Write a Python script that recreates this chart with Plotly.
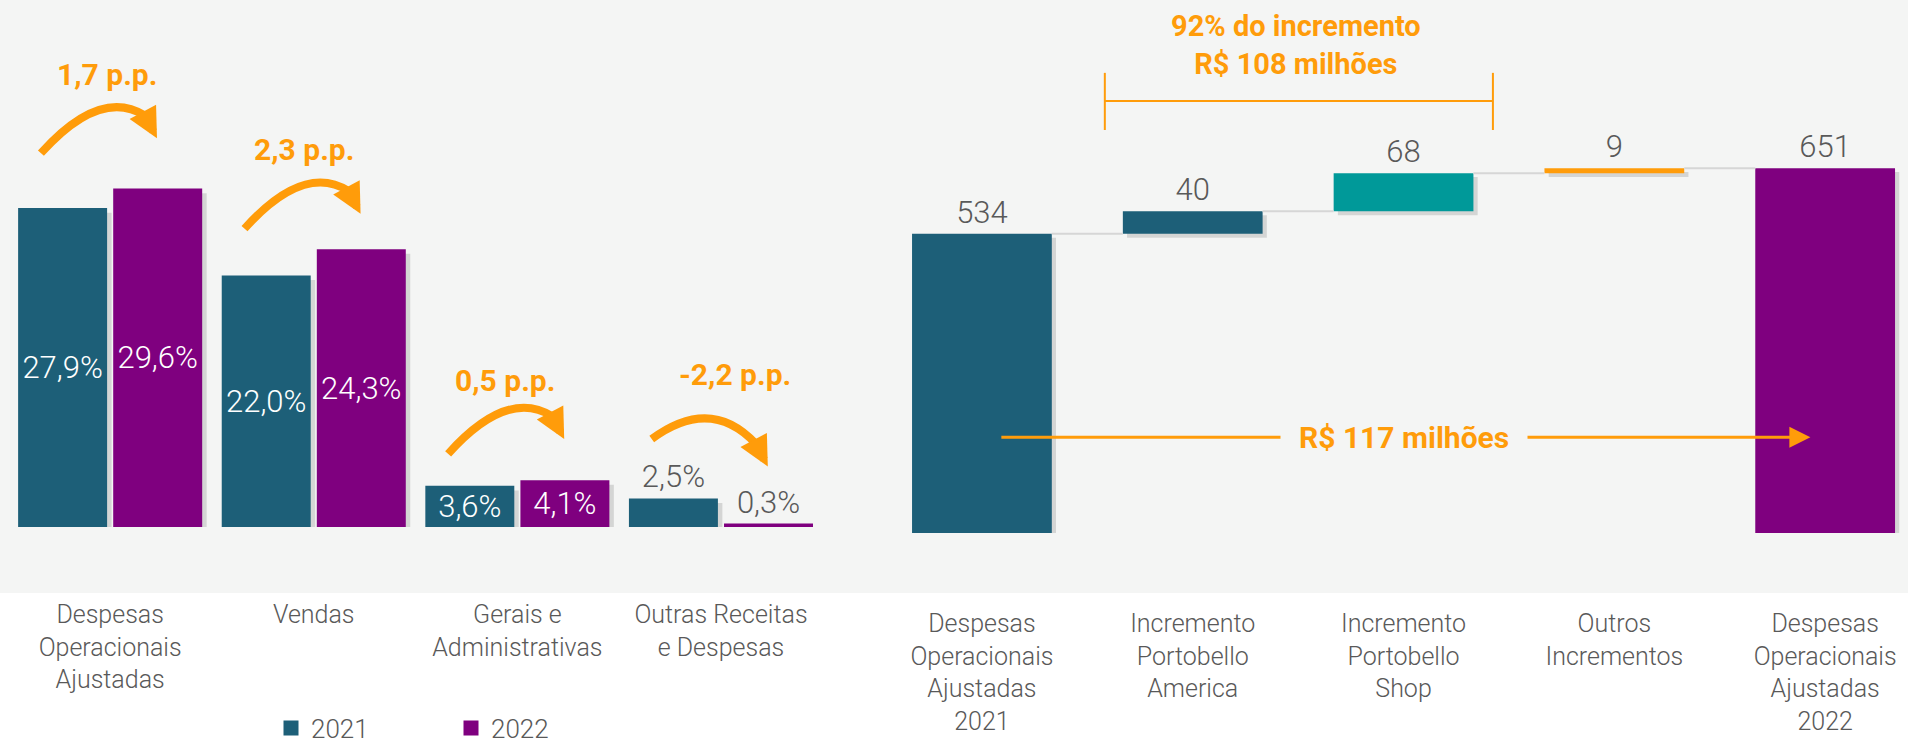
import plotly.graph_objects as go

# left panel: adjusted operating expenses as % of net revenue
categories_left = [
    "Despesas<br>Operacionais<br>Ajustadas",
    "Vendas",
    "Gerais e<br>Administrativas",
    "Outras Receitas<br>e Despesas",
]
ratio_2021 = [27.9, 22.0, 3.6, 2.5]
ratio_2022 = [29.6, 24.3, 4.1, 0.3]
delta_labels = ["1,7 p.p.", "2,3 p.p.", "0,5 p.p.", "-2,2 p.p."]

# right panel: bridge 2021 -> 2022, R$ milhões
categories_right = [
    "Despesas<br>Operacionais<br>Ajustadas<br>2021",
    "Incremento<br>Portobello<br>America",
    "Incremento<br>Portobello<br>Shop",
    "Outros<br>Incrementos",
    "Despesas<br>Operacionais<br>Ajustadas<br>2022",
]
bridge_values = [534, 40, 68, 9, 651]
bridge_measure = ["total", "relative", "relative", "relative", "total"]

TEAL_DARK = "#1D5F78"
PURPLE = "#7F007F"
TEAL = "#009999"
ORANGE = "#FF9C0A"
BG = "#F4F5F4"
GRAY_TXT = "#595959"
SHADOW = "rgba(0,0,0,0.13)"
bridge_colors = [TEAL_DARK, TEAL_DARK, TEAL, ORANGE, PURPLE]

FONT = "Roboto"


def pct(v):
    return f"{v:.1f}".replace(".", ",") + "%"


fig = go.Figure()

# ---- left grouped bars
x_left = list(range(len(categories_left)))
BW = 0.437
GAP = 0.03
offsets = {"2021": -(BW + GAP / 2), "2022": GAP / 2}

for name, vals, color in [("2021", ratio_2021, TEAL_DARK), ("2022", ratio_2022, PURPLE)]:
    # soft drop shadow
    fig.add_trace(go.Bar(
        x=x_left, y=vals, base=[-0.4] * len(vals), offset=offsets[name] + 0.022, width=BW,
        marker=dict(color=SHADOW, line_width=0), showlegend=False, hoverinfo="skip",
    ))
    fig.add_trace(go.Bar(
        x=x_left, y=vals, offset=offsets[name], width=BW, name=name, showlegend=False,
        marker=dict(color=color, line_width=0),
        text=[pct(v) for v in vals],
        textposition=["inside" if v >= 3 else "outside" for v in vals],
        insidetextanchor="middle", constraintext="none",
        insidetextfont=dict(family=FONT, size=31, color="white", weight=300),
        outsidetextfont=dict(family=FONT, size=31, color=GRAY_TXT, weight=300),
        cliponaxis=False,
    ))
    # legend entry with a bigger square swatch
    fig.add_trace(go.Scatter(
        x=[None], y=[None], mode="markers", name=name,
        marker=dict(symbol="square", size=15, color=color),
    ))

# ---- right bridge bars
bases, heights, running = [], [], 0
for v, m in zip(bridge_values, bridge_measure):
    if m == "total":
        bases.append(0)
        running = v
    else:
        bases.append(running)
        running += v
    heights.append(v)

x_right = list(range(len(categories_right)))
WW = 0.663

# connectors
cx, cy = [], []
for i in range(len(x_right) - 1):
    level = bases[i] + heights[i]
    cx += [i + WW / 2, i + 1 - WW / 2, None]
    cy += [level, level, None]
fig.add_trace(go.Scatter(
    x=cx, y=cy, mode="lines", line=dict(color="#D6D6D6", width=2),
    xaxis="x2", yaxis="y2", showlegend=False, hoverinfo="skip",
))

fig.add_trace(go.Bar(
    x=[i + 0.02 for i in x_right], y=heights, base=[b - 7 for b in bases], width=WW,
    marker=dict(color=SHADOW, line_width=0), xaxis="x2", yaxis="y2",
    showlegend=False, hoverinfo="skip",
))
fig.add_trace(go.Bar(
    x=x_right, y=heights, base=bases, width=WW,
    marker=dict(color=bridge_colors, line_width=0),
    text=[str(v) for v in bridge_values], textposition="outside", constraintext="none",
    outsidetextfont=dict(family=FONT, size=31, color=GRAY_TXT, weight=300),
    cliponaxis=False, xaxis="x2", yaxis="y2", showlegend=False,
))

# ---- curved arrows over the left groups
lift_start = [4.8, 4.1, 2.8, 5.2]
lift_tip = [4.4, 3.1, 3.6, 5.0]
arch = [2.4, 2.4, 2.4, 1.8]
label_dx = [-0.015, -0.05, -0.06, 0.07]
label_dy = [3.2, 3.2, 2.7, 3.8]
shapes = [dict(type="rect", xref="paper", yref="paper", x0=0, x1=1,
               y0=1 - 593 / 745, y1=1, fillcolor=BG, line_width=0, layer="below")]
annotations = []
for i, (a, b) in enumerate(zip(ratio_2021, ratio_2022)):
    x0, y0 = i - 0.34, a + lift_start[i]
    xt, yt = i + 0.23, b + lift_tip[i]
    xe, ye = xt - 0.06, yt + 2.0
    peak = max(y0, yt) + arch[i]
    qx, qy = i - 0.05, 2 * peak - (y0 + ye) / 2
    shapes.append(dict(
        type="path", xref="x", yref="y",
        path=f"M {x0},{y0} Q {qx},{qy} {xe},{ye}",
        line=dict(color=ORANGE, width=8), fillcolor="rgba(0,0,0,0)",
    ))
    annotations.append(dict(
        x=xt, y=yt, ax=xe, ay=ye, xref="x", yref="y", axref="x", ayref="y",
        text="", showarrow=True, arrowhead=2, arrowsize=0.75, arrowwidth=8,
        arrowcolor=ORANGE, standoff=0,
    ))
    annotations.append(dict(
        x=i + label_dx[i], y=peak + label_dy[i], xref="x", yref="y", text=delta_labels[i],
        showarrow=False, font=dict(family=FONT, size=30, color=ORANGE, weight=700),
    ))

# ---- bracket and totals on the right
br_y, br_lo, br_hi = 771, 719, 821
for xb in (1 - 0.417, 2 + 0.424):
    shapes.append(dict(type="line", xref="x2", yref="y2", x0=xb, x1=xb, y0=br_lo, y1=br_hi,
                       line=dict(color=ORANGE, width=2)))
shapes.append(dict(type="line", xref="x2", yref="y2", x0=1 - 0.417, x1=2 + 0.424,
                   y0=br_y, y1=br_y, line=dict(color=ORANGE, width=2)))
annotations.append(dict(
    x=1.49, y=870, xref="x2", yref="y2", showarrow=False,
    text="92% do incremento<br>R$ 108 milhões",
    font=dict(family=FONT, size=29, color=ORANGE, weight=700),
))
arr_y = 171
annotations.append(dict(
    x=3.93, y=arr_y, ax=0.085, ay=arr_y, xref="x2", yref="y2", axref="x2", ayref="y2",
    text="", showarrow=True, arrowhead=2, arrowsize=1.4, arrowwidth=3,
    arrowcolor=ORANGE, standoff=0,
))
annotations.append(dict(
    x=2.0, y=arr_y, xref="x2", yref="y2", showarrow=False, text="R$ 117 milhões",
    bgcolor=BG, borderpad=18,
    font=dict(family=FONT, size=30, color=ORANGE, weight=700),
))

tickfont = dict(family=FONT, size=25, color=GRAY_TXT, weight=300)
fig.update_layout(
    width=1908, height=745,
    margin=dict(l=0, r=0, t=0, b=0, autoexpand=False),
    paper_bgcolor="white", plot_bgcolor="rgba(0,0,0,0)",
    barmode="overlay",
    shapes=shapes, annotations=annotations,
    xaxis=dict(domain=[0, 0.45], range=[-0.541, 3.676], tickvals=x_left,
               ticktext=categories_left, showgrid=False, zeroline=False,
               showline=False, ticks="", tickfont=tickfont, ticklabelstandoff=70,
               fixedrange=True),
    yaxis=dict(domain=[1 - 527 / 745, 1], range=[0, 46.1], visible=False),
    xaxis2=dict(domain=[0.45, 1], range=[-0.585, 4.393], tickvals=x_right,
                ticktext=categories_right, showgrid=False, zeroline=False,
                showline=False, ticks="", tickfont=tickfont, ticklabelstandoff=73,
                anchor="y2"),
    yaxis2=dict(domain=[1 - 533 / 745, 1], range=[0, 951], visible=False, anchor="x2"),
    legend=dict(orientation="h", x=271 / 1908, xanchor="left", y=17 / 745, yanchor="middle",
                font=dict(family=FONT, size=26, color=GRAY_TXT, weight=300),
                bgcolor="rgba(0,0,0,0)", entrywidth=135, itemwidth=30),
    showlegend=True,
)

fig.write_html(
    "out.html",
    config={"displayModeBar": False},
    post_script="document.body.style.margin='0';document.body.style.overflow='hidden';",
)
